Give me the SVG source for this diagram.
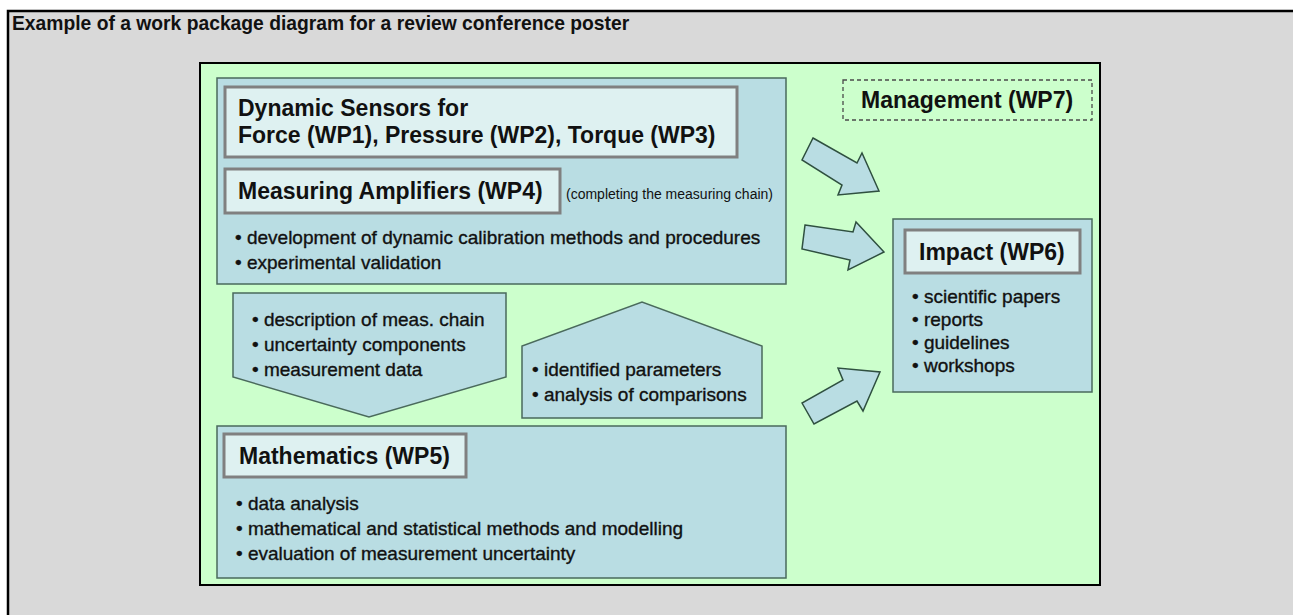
<svg xmlns="http://www.w3.org/2000/svg" width="1293" height="615" viewBox="0 0 1293 615">
  <style>
    .frame { fill: #d9d9d9; stroke: #000; stroke-width: 2.5; }
    .panel { fill: #ccffcc; stroke: #000; stroke-width: 2; }
    .box { fill: #b9dde3; stroke: #4a6a5c; stroke-width: 1.5; }
    .head { fill: #def1f1; stroke: #808080; stroke-width: 3; }
    .dash { fill: none; stroke: #4a4a4a; stroke-width: 1.3; stroke-dasharray: 4 3; }
    .arrow { fill: #b9dde3; stroke: #2f5040; stroke-width: 1.5; stroke-linejoin: miter; }
    .t { font-family: "Liberation Sans", Arial, sans-serif; fill: #111; }
    .title { font-size: 19.3px; font-weight: bold; }
    .h { font-size: 23px; font-weight: bold; }
    .b { font-size: 19px; stroke: #111; stroke-width: 0.35; }
    .s { font-size: 14px; }
  </style>

  <!-- page background and framed area -->
  <rect x="0" y="0" width="1293" height="615" fill="#fff"/>
  <rect class="frame" x="8" y="11" width="1300" height="620"/>
  <text class="t title" x="12" y="30">Example of a work package diagram for a review conference poster</text>

  <!-- poster panel -->
  <rect class="panel" x="200" y="63" width="900" height="522"/>

  <g id="wp1-4">
    <rect class="box" x="217" y="78" width="569" height="206"/>
    <rect class="head" x="225" y="87" width="512" height="70"/>
    <text class="t h" x="238" y="116">Dynamic Sensors for</text>
    <text class="t h" x="238" y="143">Force (WP1), Pressure (WP2), Torque (WP3)</text>
    <rect class="head" x="225" y="169" width="335" height="44"/>
    <text class="t h" x="238" y="199">Measuring Amplifiers (WP4)</text>
    <text class="t s" x="566" y="199">(completing the measuring chain)</text>
    <text class="t b" x="235" y="244">• development of dynamic calibration methods and procedures</text>
    <text class="t b" x="235" y="269">• experimental validation</text>
  </g>

  <g id="wp7">
    <rect class="dash" x="843" y="80" width="249" height="40"/>
    <text class="t h" x="861" y="108">Management (WP7)</text>
  </g>

  <g id="wp6">
    <rect class="box" x="893" y="219" width="199" height="173"/>
    <rect class="head" x="905" y="230" width="175" height="43"/>
    <text class="t h" x="919" y="260">Impact (WP6)</text>
    <text class="t b" x="912" y="303">• scientific papers</text>
    <text class="t b" x="912" y="326">• reports</text>
    <text class="t b" x="912" y="349">• guidelines</text>
    <text class="t b" x="912" y="372">• workshops</text>
  </g>

  <g id="flow-down">
    <polygon class="box" points="233,293 506,293 506,377 369,417 233,377"/>
    <text class="t b" x="252" y="326">• description of meas. chain</text>
    <text class="t b" x="252" y="351">• uncertainty components</text>
    <text class="t b" x="252" y="376">• measurement data</text>
  </g>

  <g id="flow-up">
    <polygon class="box" points="522,418 522,346 642,302 762,346 762,418"/>
    <text class="t b" x="532" y="376">• identified parameters</text>
    <text class="t b" x="532" y="401">• analysis of comparisons</text>
  </g>

  <g id="wp5">
    <rect class="box" x="217" y="426" width="569" height="152"/>
    <rect class="head" x="224" y="434" width="242" height="43"/>
    <text class="t h" x="239" y="464">Mathematics (WP5)</text>
    <text class="t b" x="236" y="510">• data analysis</text>
    <text class="t b" x="236" y="535">• mathematical and statistical methods and modelling</text>
    <text class="t b" x="236" y="560">• evaluation of measurement uncertainty</text>
  </g>

  <!-- block arrows towards Management and Impact -->
  <g id="connectors">
    <polygon class="arrow" points="813,138 857,163 862,153 879,191 838,195 842,185 802,160"/>
    <polygon class="arrow" points="805,225 853,232 856,222 884,252 848,270 850,260 802,249"/>
    <polygon class="arrow" points="802,403 814,424 857,401 863,411 880,372 838,368 843,380"/>
  </g>
</svg>
